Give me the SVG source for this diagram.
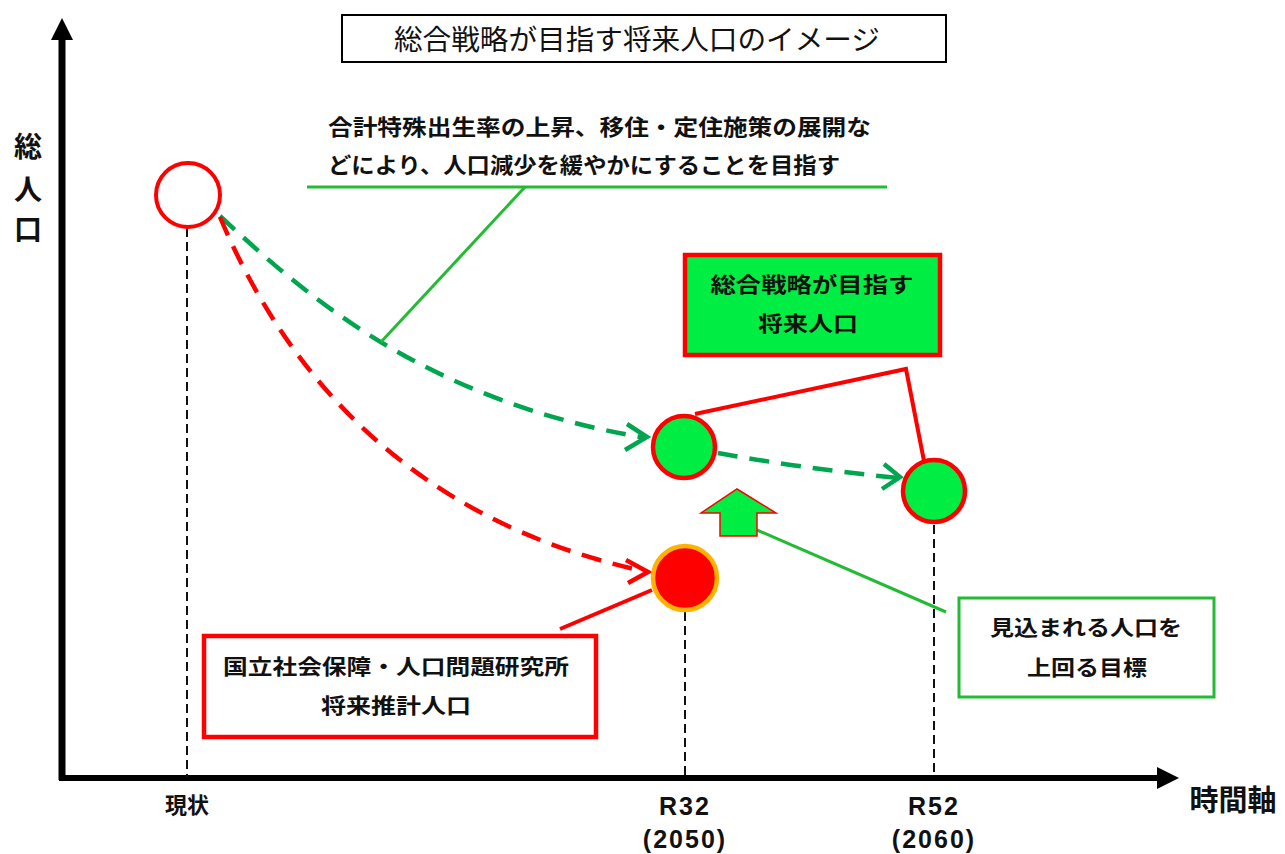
<svg xmlns="http://www.w3.org/2000/svg" width="1285" height="854" viewBox="0 0 1285 854">
<style>
.t{font-family:"Noto Sans CJK JP","Noto Sans",sans-serif;fill:#111;}
.b{font-weight:bold;}
.lat{font-family:"Liberation Sans","Noto Sans",sans-serif;font-weight:bold;fill:#111;}
.vd{stroke:#111;stroke-width:2;stroke-dasharray:9,5;fill:none;}
.gd{stroke:#00a64f;stroke-width:4.5;stroke-dasharray:20,12;fill:none;}
.rd{stroke:#ff0000;stroke-width:4.5;stroke-dasharray:20,12;fill:none;}
.gch{stroke:#00a64f;stroke-width:4.5;fill:none;}
.rch{stroke:#ff0000;stroke-width:4.5;fill:none;}
.rl{stroke:#ff0000;stroke-width:4;fill:none;}
.gl{stroke:#22bb33;stroke-width:3;fill:none;}
</style>
<rect width="1285" height="854" fill="#fff"/>
<g id="axes">
<line x1="62" y1="38" x2="62" y2="780" stroke="#000" stroke-width="7"/>
<polygon points="62,18 51,40 73,40" fill="#000"/>
<line x1="59" y1="778" x2="1160" y2="778" stroke="#000" stroke-width="6"/>
<polygon points="1179,778 1157,767 1157,789" fill="#000"/>
<text class="t b" x="28" y="157" font-size="28" text-anchor="middle">総</text>
<text class="t b" x="28" y="200" font-size="28" text-anchor="middle">人</text>
<text class="t b" x="28" y="240" font-size="28" text-anchor="middle">口</text>
<text class="t b" x="1233" y="811" font-size="29" text-anchor="middle">時間軸</text>
<text class="t b" x="187" y="813" font-size="22" text-anchor="middle">現状</text>
<text class="lat" x="685" y="815" font-size="25" text-anchor="middle" letter-spacing="2">R32</text>
<text class="lat" x="685" y="848" font-size="25" text-anchor="middle" letter-spacing="2">(2050)</text>
<text class="lat" x="934" y="815" font-size="25" text-anchor="middle" letter-spacing="2">R52</text>
<text class="lat" x="934" y="848" font-size="25" text-anchor="middle" letter-spacing="2">(2060)</text>
</g>
<g id="title">
<rect x="342" y="15" width="604" height="47" fill="#fff" stroke="#000" stroke-width="2"/>
<text class="t" x="394" y="50" font-size="28" textLength="486" lengthAdjust="spacingAndGlyphs">総合戦略が目指す将来人口のイメージ</text>
</g>
<g id="connectors">
<line class="vd" x1="187" y1="228" x2="187" y2="777"/>
<line class="vd" x1="685" y1="612" x2="685" y2="777"/>
<line class="vd" x1="934" y1="525" x2="934" y2="777"/>
<path class="gd" d="M220,216 C300,290 420,400 646,438"/>
<polyline class="gch" points="627,424 647,437 625,450"/>
<path class="gd" d="M718,453 Q800,468 898,478"/>
<polyline class="gch" points="884,464 900,477 882,489"/>
<path class="rd" d="M220,217 C280,360 400,520 648,572"/>
<polyline class="rch" points="626,560 648,572 628,583"/>
<line class="rl" x1="560" y1="629" x2="652" y2="590"/>
<polyline class="rl" points="695,414 906,369 924,461"/>
<line class="gl" x1="307" y1="187" x2="887" y2="187"/>
<line class="gl" x1="525" y1="187" x2="381" y2="342"/>
<line class="gl" x1="757" y1="530" x2="946" y2="612"/>
</g>
<g id="annotation">
<text class="t b" x="328" y="135" font-size="22" textLength="543" lengthAdjust="spacingAndGlyphs">合計特殊出生率の上昇、移住・定住施策の展開な</text>
<text class="t b" x="328" y="173" font-size="22" textLength="512" lengthAdjust="spacingAndGlyphs">どにより、人口減少を緩やかにすることを目指す</text>
</g>
<g id="node-present">
<circle cx="188" cy="195" r="32" fill="#fff" stroke="#ff0000" stroke-width="4"/>
</g>
<g id="node-r32-target">
<circle cx="684" cy="447" r="31" fill="#00ee44" stroke="#ff0000" stroke-width="4.5"/>
</g>
<g id="node-r52-target">
<circle cx="934" cy="491" r="31" fill="#00ee44" stroke="#ff0000" stroke-width="4.5"/>
</g>
<g id="node-r32-projection">
<circle cx="685" cy="578" r="32" fill="#ff0000" stroke="#ffb300" stroke-width="4.5"/>
</g>
<g id="up-arrow">
<polygon points="737,489 776,513 757,513 757,536 720,536 720,513 701,513" fill="#00ee44" stroke="#ff0000" stroke-width="1.5"/>
</g>
<g id="box-target">
<rect x="685" y="255" width="255" height="100" fill="#00ee44" stroke="#ff0000" stroke-width="4.5"/>
<text class="t b" x="812" y="292" font-size="21" text-anchor="middle" textLength="203" lengthAdjust="spacingAndGlyphs">総合戦略が目指す</text>
<text class="t b" x="808" y="331" font-size="21" text-anchor="middle" textLength="100" lengthAdjust="spacingAndGlyphs">将来人口</text>
</g>
<g id="box-ipss">
<rect x="204" y="636" width="392" height="101" fill="#fff" stroke="#ff0000" stroke-width="4.5"/>
<text class="t b" x="396" y="674" font-size="21" text-anchor="middle" textLength="346" lengthAdjust="spacingAndGlyphs">国立社会保障・人口問題研究所</text>
<text class="t b" x="396" y="713" font-size="21" text-anchor="middle" textLength="150" lengthAdjust="spacingAndGlyphs">将来推計人口</text>
</g>
<g id="box-exceed">
<rect x="959" y="598" width="255" height="99" fill="#fff" stroke="#22bb33" stroke-width="3"/>
<text class="t b" x="1086" y="635" font-size="21" text-anchor="middle" textLength="192" lengthAdjust="spacingAndGlyphs">見込まれる人口を</text>
<text class="t b" x="1087" y="675" font-size="21" text-anchor="middle" textLength="120" lengthAdjust="spacingAndGlyphs">上回る目標</text>
</g>
</svg>
